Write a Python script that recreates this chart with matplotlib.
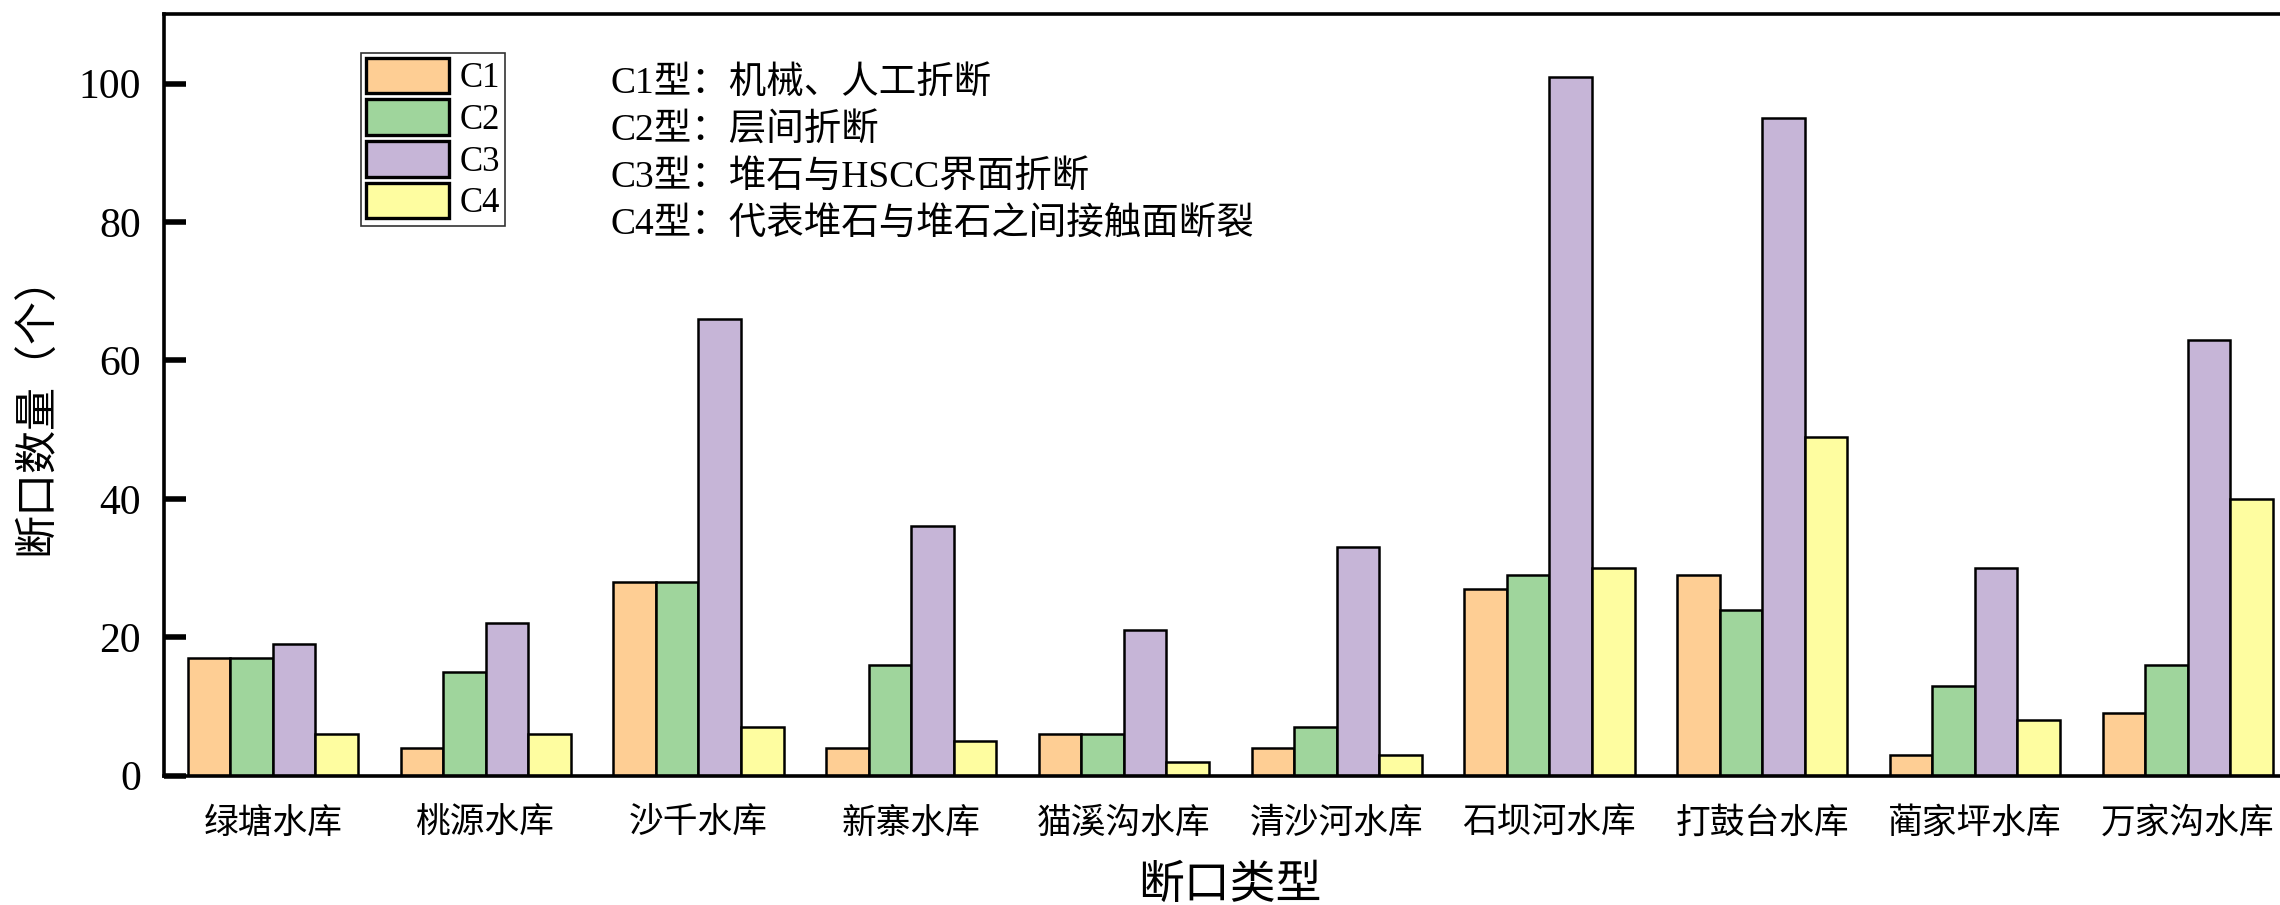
import numpy as np
import matplotlib
matplotlib.use("Agg")
import matplotlib.pyplot as plt

plt.rcParams['font.family'] = ['Liberation Serif', 'Noto Sans CJK SC']

reservoirs = ['绿塘水库', '桃源水库', '沙千水库', '新寨水库', '猫溪沟水库',
              '清沙河水库', '石坝河水库', '打鼓台水库', '蔺家坪水库', '万家沟水库']
c1 = [17, 4, 28, 4, 6, 4, 27, 29, 3, 9]
c2 = [17, 15, 28, 16, 6, 7, 29, 24, 13, 16]
c3 = [19, 22, 66, 36, 21, 33, 101, 95, 30, 63]
c4 = [6, 6, 7, 5, 2, 3, 30, 49, 8, 40]
series_names = ['C1', 'C2', 'C3', 'C4']
colors = ['#FECE94', '#9FD59C', '#C6B5D7', '#FEFDA0']
notes = ['C1型：机械、人工折断',
         'C2型：层间折断',
         'C3型：堆石与HSCC界面折断',
         'C4型：代表堆石与堆石之间接触面断裂']

fig = plt.figure(figsize=(22.8, 9.05), dpi=100)
ax = fig.add_axes([0.0721, 0.143, 0.935, 0.841])

x = np.arange(len(reservoirs))
w = 0.2
for i, (vals, name, col) in enumerate(zip([c1, c2, c3, c4], series_names, colors)):
    ax.bar(x + (i - 1.5) * w, vals, w, color=col, edgecolor='black',
           linewidth=1.8, label=name, zorder=2)

ax.set_xlim(-0.51, 9.51)
ax.set_ylim(0, 110)
ax.set_yticks([0, 20, 40, 60, 80, 100])
ax.set_xticks(x)
ax.set_xticklabels(reservoirs, fontsize=25, family=['Noto Sans CJK SC'])
ax.tick_params(axis='y', direction='in', length=16, width=4, labelsize=30, pad=17)
ax.tick_params(axis='x', length=0, pad=22)

for side in ['left', 'bottom', 'top']:
    ax.spines[side].set_linewidth(2.6)
ax.spines['right'].set_visible(False)

ax.set_xlabel('断口类型', fontsize=33, family=['Noto Sans CJK SC'], labelpad=14)
ax.set_ylabel('断口数量（个）', fontsize=31, family=['Noto Sans CJK SC'])
ax.yaxis.set_label_coords(-0.0495, 0.487)

leg = ax.legend(loc='upper left', bbox_to_anchor=(0.092, 0.95), fontsize=25,
                frameon=True, fancybox=False, edgecolor='black',
                handlelength=2.4, handleheight=1.2, handletextpad=0.3,
                labelspacing=0.12, borderpad=0.15, borderaxespad=0)
leg.get_frame().set_linewidth(1.2)
for patch in leg.get_patches():
    patch.set_linewidth(2.4)

for j, t in enumerate(notes):
    ax.text(0.2094, 0.909 - j * 0.062, t, transform=ax.transAxes,
            fontsize=27, va='center', ha='left')

fig.savefig('out.png', dpi=100)
